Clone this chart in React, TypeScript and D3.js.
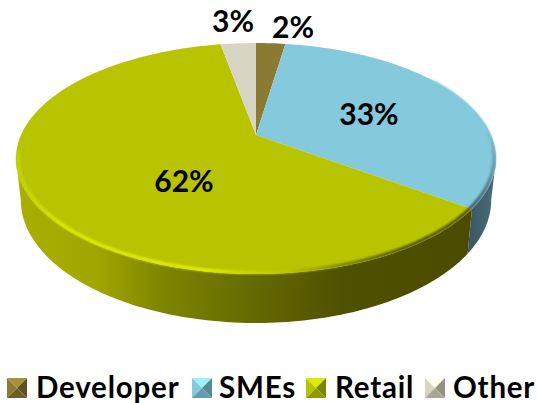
import React, { useEffect, useRef } from 'react';
import * as d3 from 'd3';

const categories = ['Developer', 'SMEs', 'Retail', 'Other'];
const shares = [2.4, 32.6, 62.1, 2.9];
const colors = ['#8b7a33', '#84c9dc', '#b9c400', '#d8d6c3'];

const width = 537;
const height = 403;
const font = 'Lato, "Open Sans", sans-serif';

// label spots and legend spots
const labelPos = [[293, 27], [369, 114], [184, 181], [233, 21]];
const legendX = [7, 192, 306, 425];
const legendTextX = [36, 219, 335, 453];

// perspective of the top face: apex sits above the ellipse centre
const cx = 256;
const apexY = 135;
const A = 235;
const B = 110.7;
const k = 0.2035;

const project = (angle: number, r = 1, bottom = false): [number, number] => {
  const u = Math.sin(angle) * r;
  const v = -Math.cos(angle) * r;
  const w = 1 - k * v;
  const x = (A * u) / w;
  const y = apexY + (B * v) / w;
  if (!bottom) return [cx + x, y];
  return [cx + x * 0.98, 200 + (y - 158.5) * 1.065];
};

const sweep = (a0: number, a1: number, r = 1, bottom = false) => {
  const n = Math.max(2, Math.ceil(Math.abs(a1 - a0) / 0.02));
  return d3.range(n + 1).map(i => project(a0 + ((a1 - a0) * i) / n, r, bottom));
};

const App = () => {
  const ref = useRef<SVGSVGElement | null>(null);

  useEffect(() => {
    const svg = d3.select(ref.current);
    svg.selectAll('*').remove();

    const defs = svg.append('defs');
    const gradient = (id: string, x1: number, y1: number, x2: number, y2: number, stops: [number, string][]) => {
      const g = defs.append('linearGradient')
        .attr('id', id)
        .attr('gradientUnits', 'userSpaceOnUse')
        .attr('x1', x1).attr('y1', y1).attr('x2', x2).attr('y2', y2);
      stops.forEach(([o, c]) => g.append('stop').attr('offset', o).attr('stop-color', c));
    };
    gradient('wallRetail', 16, 0, 466, 0, [[0, '#aab000'], [0.18, '#a0a600'], [0.32, '#7f8600'], [0.48, '#6a7000'], [0.6, '#5e6000'], [0.73, '#4f5000'], [1, '#4c4c00']]);
    gradient('wallSmes', 462, 0, 496, 0, [[0, '#39525c'], [1, '#4a6d7a']]);
    gradient('rimRetail', 16, 0, 466, 0, [[0, '#c4d400'], [0.1, '#dff000'], [0.42, '#e4f500'], [0.53, '#c8d400'], [0.61, '#b9c400'], [0.72, '#808500'], [0.85, '#4f5000'], [1, '#4c4c00']]);
    gradient('rimSmes', 0, 130, 0, 208, [[0, '#84c9dc'], [1, '#39525c']]);
    defs.append('filter').attr('id', 'soft').attr('x', '-5%').attr('y', '-5%').attr('width', '110%').attr('height', '110%')
      .append('feGaussianBlur').attr('stdDeviation', 1);

    const arcs = d3.pie<number>().sort(null).value(d => d)(shares);
    const line = d3.line();
    const rightEdge = Math.acos(-k);
    const leftEdge = 2 * Math.PI - rightEdge;

    const chart = svg.append('g');

    // side walls, only the parts that face the viewer
    const wallFill = ['none', 'url(#wallSmes)', 'url(#wallRetail)', 'none'];
    arcs.forEach((d, i) => {
      const a0 = Math.max(d.startAngle, rightEdge);
      const a1 = Math.min(d.endAngle, leftEdge);
      if (a0 >= a1) return;
      const pts = [...sweep(a0, a1), ...sweep(a0, a1, 1, true).reverse()];
      chart.append('path').attr('d', line(pts) + 'Z').attr('fill', wallFill[i]);
    });

    // top face
    arcs.forEach((d, i) => {
      const pts: [number, number][] = [[cx, apexY], ...sweep(d.startAngle, d.endAngle)];
      chart.append('path').attr('d', line(pts) + 'Z').attr('fill', colors[i]);
    });

    // bevel along the front edge
    const rim = chart.append('g').attr('filter', 'url(#soft)').attr('fill', 'none').attr('stroke-width', 3);
    rim.append('path')
      .attr('d', line(sweep(arcs[2].startAngle, leftEdge + 0.05, 0.992)))
      .attr('stroke', 'url(#rimRetail)');
    rim.append('path')
      .attr('d', line(sweep(1.0, arcs[1].endAngle, 0.992)))
      .attr('stroke', 'url(#rimSmes)');

    // percent labels
    svg.append('g').selectAll('text').data(arcs).join('text')
      .attr('x', (_, i) => labelPos[i][0])
      .attr('y', (_, i) => labelPos[i][1])
      .attr('dy', '0.35em')
      .attr('text-anchor', 'middle')
      .style('font-family', font)
      .style('font-size', '30px')
      .style('font-weight', 700)
      .style('fill', '#000')
      .text(d => `${d3.format('.0f')(d.value)}%`);

    // legend with pyramid style swatches
    const size = 20;
    const legend = svg.append('g').selectAll('g').data(categories).join('g');
    const m = size / 2;
    const facets: [string, (c: string) => string][] = [
      [`M0,0L${size},0L${m},${m}Z`, c => d3.color(c)!.brighter(0.5).formatHex()],
      [`M0,0L0,${size}L${m},${m}Z`, c => c],
      [`M${size},0L${size},${size}L${m},${m}Z`, c => d3.color(c)!.darker(1.1).formatHex()],
      [`M0,${size}L${size},${size}L${m},${m}Z`, c => d3.color(c)!.darker(0.7).formatHex()],
    ];
    facets.forEach(([path, shade]) => {
      legend.append('path')
        .attr('d', path)
        .attr('transform', (_, i) => `translate(${legendX[i]},378)`)
        .attr('fill', (_, i) => shade(colors[i]));
    });
    legend.append('text')
      .attr('x', (_, i) => legendTextX[i])
      .attr('y', 398)
      .style('font-family', font)
      .style('font-size', '29.5px')
      .style('letter-spacing', '0.8px')
      .style('font-weight', 700)
      .style('fill', '#000')
      .text(d => d);
  }, []);

  return (
    <svg
      ref={ref}
      width={width}
      height={height}
      style={{ position: 'absolute', left: 0, top: 0, display: 'block', background: '#fff' }}
    />
  );
};

export default App;
